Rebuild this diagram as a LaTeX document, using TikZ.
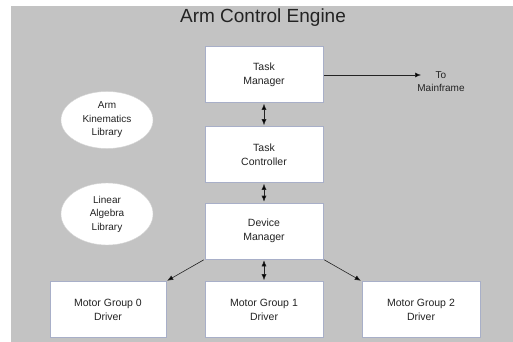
\documentclass[tikz,border=0pt]{standalone}
\usepackage{fontspec}
\setmainfont{Liberation Sans}
\usetikzlibrary{arrows.meta,shapes.geometric}
\definecolor{bggray}{RGB}{195,195,195}
\definecolor{boxline}{RGB}{168,175,200}
\definecolor{libline}{RGB}{212,212,212}
\definecolor{ink}{RGB}{35,35,35}

\begin{document}
\begin{tikzpicture}
  [x=1pt,y=-1pt,>={Latex[length=6pt,width=5pt]},
   every node/.style={text=ink},
   box/.style={rectangle,draw=boxline,line width=.6pt,fill=white,
     minimum width=118pt,minimum height=56pt,align=center,
     font=\fontsize{10.5}{14}\selectfont},
   lib/.style={ellipse,draw=libline,fill=white,inner sep=0pt,
     minimum width=92pt,align=center,font=\fontsize{10}{13.5}\selectfont},
   link/.style={draw=ink,line width=.6pt,shorten <=1pt,shorten >=1pt}]
  \useasboundingbox (0,0) rectangle (513,342);
  \fill[bggray] (11,6) rectangle (513,342);

  \node (ttl) at (263,18) {\fontsize{19}{22}\selectfont Arm Control Engine};

  \node[box] (tm) at (264,74.5) {Task\\Manager};
  \node[box] (tc) at (264,154.5) {Task\\Controller};
  \node[box] (dm) at (264,231) {Device\\Manager};
  \node[box,minimum width=116pt] (mg0) at (108,309.5) {Motor Group 0\\Driver};
  \node[box] (mg1) at (264,309.5) {Motor Group 1\\Driver};
  \node[box] (mg2) at (421,309.5) {Motor Group 2\\Driver};

  \node[lib,minimum height=57pt] (kin) at (107,120) {Arm\\Kinematics\\Library};
  \node[lib,minimum height=62pt] (alg) at (107,214) {Linear\\Algebra\\Library};

  \node[align=center,font=\fontsize{10}{13}\selectfont] (mf) at (441,82) {To\\Mainframe};
  \coordinate (out) at (422,75);

  \path[link]
    (tm) edge[<->] (tc)
    (tc) edge[<->] (dm)
    (dm) edge[<->] (mg1)
    (dm.south west) edge[->] (mg0.north east)
    (dm.south east) edge[->] (mg2.north west)
    (tm.east |- out) edge[->] (out);
\end{tikzpicture}
\end{document}
